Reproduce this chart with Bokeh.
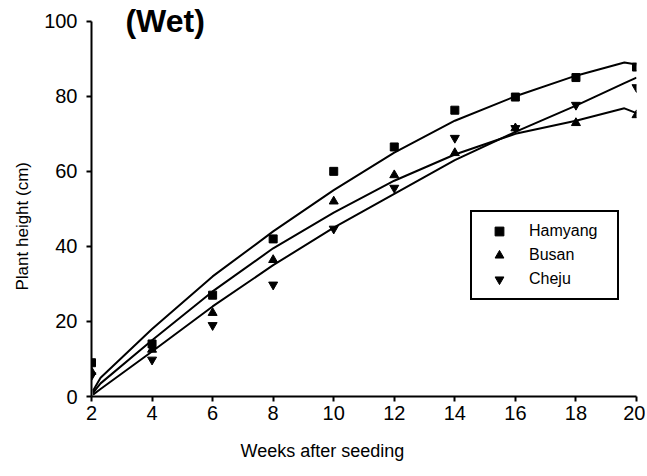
from bokeh.plotting import figure
from bokeh.models import Legend, LegendItem, Label, Range1d, Title
from bokeh.embed import file_html
from bokeh.resources import INLINE

# observed data
weeks = [2, 4, 6, 8, 10, 12, 14, 16, 18, 20]
hamyang = [9, 14, 27, 42, 60, 66.5, 76.3, 79.8, 85, 87.8]
busan = [6.6, 12.5, 22.3, 36.4, 52, 59, 64.9, 71.5, 72.9, 75]
cheju = [5.6, 9.8, 19, 29.8, 44.7, 55.6, 68.9, 71.5, 77.7, 82.4]

# fitted curves
curve_weeks = [2.05, 2.3, 4, 6, 8, 10, 12, 14, 16, 18, 19.6, 20]
hamyang_fit = [1.5, 5, 18, 32, 44, 55, 65, 73.5, 80, 85.5, 89, 88.5]
busan_fit = [1, 3.5, 15, 28, 39.5, 49, 57.5, 64.5, 70, 73.5, 76.8, 75.5]
cheju_fit = [0.5, 2, 12, 24, 35, 45, 54, 63, 70.5, 77.5, 83.5, 85]

x_ticks = [2, 4, 6, 8, 10, 12, 14, 16, 18, 20]
y_ticks = [0, 20, 40, 60, 80, 100]

p = figure(width=645, height=476, output_backend="svg", toolbar_location=None,
           x_range=Range1d(2, 20), y_range=Range1d(0, 105),
           min_border_left=91, min_border_top=2, min_border_right=9, min_border_bottom=79)
p.outline_line_color = None
p.xgrid.visible = False
p.ygrid.visible = False
p.background_fill_color = "white"
p.border_fill_color = "white"

font = "Liberation Sans"

for ax in (p.xaxis[0], p.yaxis[0]):
    ax.axis_line_width = 2
    ax.axis_line_color = "black"
    ax.major_tick_line_width = 2
    ax.major_tick_line_color = "black"
    ax.major_tick_in = 0
    ax.major_tick_out = 5
    ax.minor_tick_line_color = None
    ax.major_label_text_font = font
    ax.major_label_text_font_size = "20px"
    ax.major_label_text_color = "black"

p.xaxis.ticker = x_ticks
p.yaxis.ticker = y_ticks
p.yaxis.bounds = (0, 100)
p.xaxis.major_label_standoff = 4
p.yaxis.major_label_standoff = 9

# axis titles as side-panel titles, offset like the original
xt = Title(text="Weeks after seeding", align="left", offset=149, standoff=32,
           text_font=font, text_font_size="18px", text_font_style="normal",
           text_color="black")
p.add_layout(xt, "below")
yt = Title(text="Plant height (cm)", align="left", offset=106, standoff=20,
           text_font=font, text_font_size="17px", text_font_style="normal",
           text_color="black")
p.add_layout(yt, "left")

for fit in (hamyang_fit, busan_fit, cheju_fit):
    p.line(curve_weeks, fit, line_color="black", line_width=2)

r1 = p.scatter(weeks, hamyang, marker="square", size=8, color="black")
r2 = p.scatter(weeks, busan, marker="triangle", size=9, color="black")
r3 = p.scatter(weeks, cheju, marker="inverted_triangle", size=9, color="black")

legend = Legend(items=[LegendItem(label="Hamyang", renderers=[r1]),
                       LegendItem(label="Busan", renderers=[r2]),
                       LegendItem(label="Cheju", renderers=[r3])],
                location=(379, 96), orientation="vertical")
legend.border_line_color = "black"
legend.border_line_alpha = 1
legend.border_line_width = 2
legend.background_fill_alpha = 1
legend.padding = 8
legend.margin = 0
legend.spacing = 2
legend.label_height = 22
legend.glyph_height = 22
legend.glyph_width = 38
legend.label_standoff = 11
legend.label_width = 80
legend.label_text_font = font
legend.label_text_font_size = "16px"
legend.label_text_color = "black"
p.add_layout(legend, "center")

title = Label(x=3.12, y=100.2, text="(Wet)", text_font=font, text_font_size="32px",
              text_font_style="bold", text_baseline="middle", text_align="left",
              text_color="black")
p.add_layout(title)

open("out.html", "w").write(file_html(p, INLINE))
